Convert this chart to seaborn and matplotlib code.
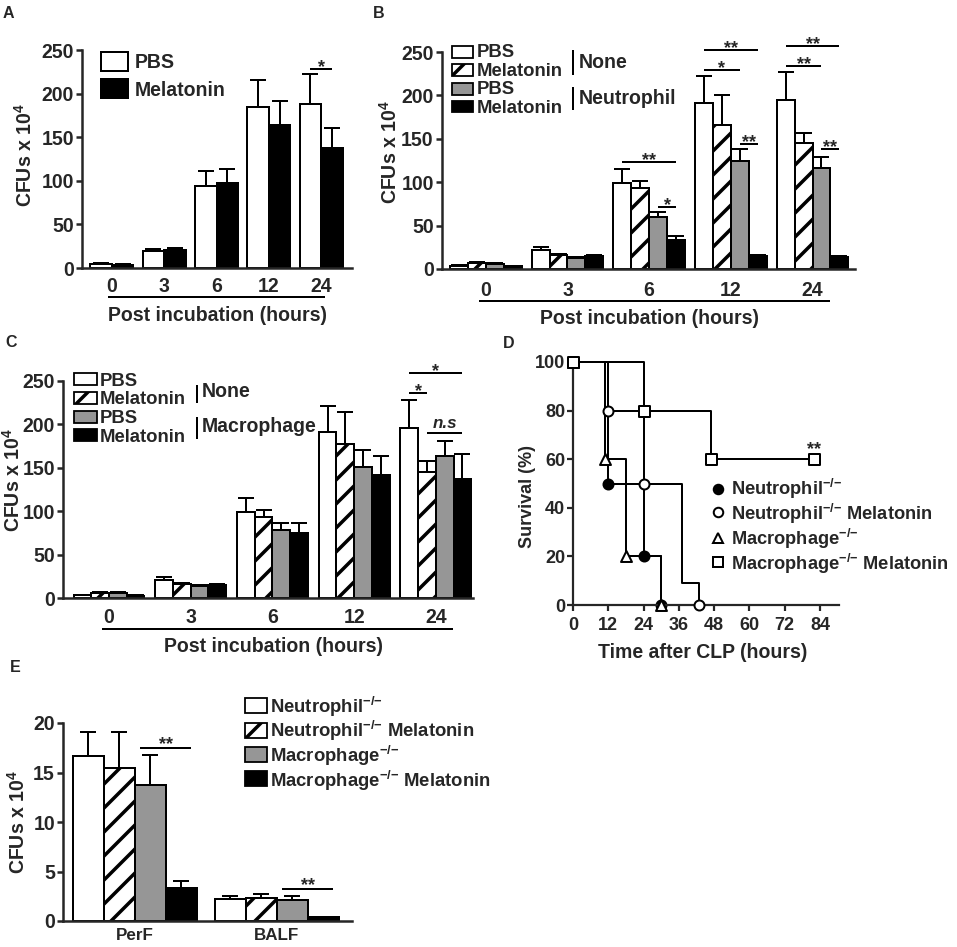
import numpy as np
import pandas as pd
import matplotlib
matplotlib.use("Agg")
import matplotlib.pyplot as plt
import seaborn as sns
from matplotlib.patches import Rectangle
from matplotlib.lines import Line2D

# ---------------- data ----------------
hours = ["0", "3", "6", "12", "24"]

# Panel A
a_names = ["PBS", "Melatonin"]
a_pbs = [4.2, 19.0, 94.0, 185.0, 188.5]
a_pbs_err = [1.0, 3.0, 17.0, 31.0, 33.5]
a_mel = [4.0, 21.0, 97.5, 164.0, 137.6]
a_mel_err = [1.0, 2.0, 15.5, 27.5, 22.5]

# Panel B
b_names = ["PBS None", "Melatonin None", "PBS Neutrophil", "Melatonin Neutrophil"]
b_pbs_none = [3.8, 21.5, 99.5, 191.0, 195.0]
b_pbs_none_err = [1.0, 3.5, 15.5, 31.0, 32.0]
b_mel_none = [7.0, 16.0, 93.0, 166.0, 145.0]
b_mel_none_err = [1.0, 1.2, 8.0, 35.0, 12.0]
b_pbs_neut = [6.0, 12.7, 60.0, 125.0, 116.0]
b_pbs_neut_err = [1.0, 1.3, 6.0, 13.0, 13.0]
b_mel_neut = [3.0, 14.6, 33.0, 14.6, 13.4]
b_mel_neut_err = [0.7, 1.4, 4.6, 1.9, 1.6]

# Panel C
c_names = ["PBS None", "Melatonin None", "PBS Macrophage", "Melatonin Macrophage"]
c_pbs_none = [3.0, 21.0, 99.0, 191.5, 196.0]
c_pbs_none_err = [1.0, 3.0, 16.0, 30.0, 32.0]
c_mel_none = [6.0, 15.8, 93.5, 177.0, 145.0]
c_mel_none_err = [1.0, 1.2, 7.5, 37.6, 13.0]
c_pbs_mac = [5.4, 13.5, 78.0, 151.0, 163.5]
c_pbs_mac_err = [1.0, 1.1, 8.5, 20.0, 17.5]
c_mel_mac = [2.7, 14.6, 75.0, 141.5, 137.0]
c_mel_mac_err = [0.6, 1.9, 11.5, 22.0, 28.4]

# Panel D (Kaplan-Meier survival, %)
d_neut_t = [0, 12, 24, 30]
d_neut_s = [100, 50, 20, 0]
d_neutmel_t = [0, 12, 24, 37, 43]
d_neutmel_s = [100, 80, 50, 9, 0]
d_mac_t = [0, 11, 18, 30]
d_mac_s = [100, 60, 20, 0]
d_macmel_t = [0, 24, 47, 82]
d_macmel_s = [100, 80, 60, 60]

# Panel E
e_sites = ["PerF", "BALF"]
e_names = ["Neutrophil-/-", "Neutrophil-/- Melatonin", "Macrophage-/-", "Macrophage-/- Melatonin"]
e_neut = [16.7, 2.2]
e_neut_err = [2.4, 0.33]
e_neutmel = [15.45, 2.36]
e_neutmel_err = [3.6, 0.37]
e_mac = [13.7, 2.12]
e_mac_err = [3.1, 0.41]
e_macmel = [3.37, 0.37]
e_macmel_err = [0.68, 0.07]

# ---------------- style ----------------
W, H, DPI = 957, 947, 72
sns.set_style("ticks")
plt.rcParams["font.family"] = ["Liberation Sans", "DejaVu Sans"]
plt.rcParams["font.weight"] = "bold"
plt.rcParams["axes.labelweight"] = "bold"
plt.rcParams["hatch.color"] = "black"
plt.rcParams["hatch.linewidth"] = 3.5
plt.rcParams["mathtext.fontset"] = "custom"
plt.rcParams["mathtext.rm"] = "Liberation Sans:bold"
plt.rcParams["mathtext.bf"] = "Liberation Sans:bold"
plt.rcParams["mathtext.it"] = "Liberation Sans:bold:italic"
plt.rcParams["mathtext.default"] = "regular"

GRAY = "#969696"
KO = r"$^{{-}/{-}}$"
fig = plt.figure(figsize=(W / DPI, H / DPI), dpi=DPI)
fig.patch.set_facecolor("white")


def fx(x):
    return x / W


def fy(y):
    return 1 - y / H


def add_ax(left, top, right, bottom):
    return fig.add_axes([fx(left), fy(bottom), (right - left) / W, (bottom - top) / H])


def ftext(x, y, s, **kw):
    kw.setdefault("fontweight", "bold")
    fig.text(fx(x), fy(y), s, **kw)


def fline(x0, x1, y0, y1, lw=2):
    fig.add_artist(Line2D([fx(x0), fx(x1)], [fy(y0), fy(y1)], transform=fig.transFigure,
                          color="black", lw=lw, solid_capstyle="butt"))


def frect(x, y, w, h, fc, hatch=None, lw=1.8):
    fig.add_artist(Rectangle((fx(x), fy(y + h)), w / W, h / H, transform=fig.transFigure,
                             facecolor=fc, edgecolor="black", lw=lw, hatch=hatch))


def style_axes(ax, yfs=19.5, xpad=10):
    for s in ["left", "bottom"]:
        ax.spines[s].set_linewidth(2.5)
    sns.despine(ax=ax)
    ax.tick_params(axis="y", direction="out", length=6, width=2.5, pad=2, labelsize=yfs)
    ax.tick_params(axis="x", length=0, pad=xpad, labelsize=19.5)
    for lab in ax.get_xticklabels() + ax.get_yticklabels():
        lab.set_fontweight("bold")
    ax.set_xlabel("")
    ax.set_ylabel("")


def bar_panel(ax, cats, names, means, errs, colors, hatches, width):
    df = pd.DataFrame({
        "cat": np.tile(cats, len(names)),
        "grp": np.repeat(names, len(cats)),
        "val": np.concatenate([np.asarray(m, float) for m in means]),
    })
    sns.barplot(data=df, x="cat", y="val", hue="grp", order=cats, hue_order=names,
                palette=dict(zip(names, colors)), width=width, errorbar=None,
                edgecolor="black", linewidth=2, saturation=1, legend=False, ax=ax)
    centers = []
    for cont, err, h in zip(ax.containers, errs, hatches):
        cs = []
        for bar, e in zip(cont, err):
            if h:
                bar.set_hatch(h)
            xc = bar.get_x() + bar.get_width() / 2
            cs.append(xc)
            ax.errorbar(xc, bar.get_height(), yerr=[[0], [e]], fmt="none", ecolor="black",
                        elinewidth=2, capsize=8, capthick=2, zorder=1)
        centers.append(cs)
    return centers


def sig(ax, xa, xb, y, label, ext=0.0, dy=-3, fs=18, style="normal"):
    ax.plot([xa - ext, xb + ext], [y, y], color="black", lw=2, clip_on=False,
            solid_capstyle="butt")
    ax.annotate(label, xy=((xa + xb) / 2, y), xytext=(0, dy), textcoords="offset points",
                ha="center", va="baseline", fontsize=fs, fontweight="bold", fontstyle=style,
                annotation_clip=False)


four_colors = ["white", "white", GRAY, "black"]
four_hatch = [None, "/", None, None]

# ---------------- Panel A ----------------
axA = add_ax(82, 50, 352, 268)
cA = bar_panel(axA, hours, a_names, [a_pbs, a_mel], [a_pbs_err, a_mel_err],
               ["white", "black"], [None, None], 0.823)
axA.set_ylim(0, 250)
axA.set_xlim(-0.574, 4.593)
axA.set_yticks([0, 50, 100, 150, 200, 250])
style_axes(axA, xpad=9)
sig(axA, cA[0][4], cA[1][4], 228, "*")
frect(101, 52, 27, 19, "white", lw=2)
frect(101, 79, 27, 19, "black", lw=2)
ftext(135, 68.5, "PBS", fontsize=19.5, va="baseline")
ftext(135, 96.5, "Melatonin", fontsize=19.5, va="baseline")
fline(108, 325, 297, 297)
ftext(218, 321, "Post incubation (hours)", fontsize=19.5, ha="center", va="baseline")
ftext(25, 155, "CFUs x 10$^{4}$", fontsize=19.5, rotation=90, ha="center", va="center")
ftext(3, 18, "A", fontsize=16, va="baseline")

# ---------------- Panel B ----------------
axB = add_ax(441.7, 52, 855, 269)
cB = bar_panel(axB, hours, b_names,
               [b_pbs_none, b_mel_none, b_pbs_neut, b_mel_neut],
               [b_pbs_none_err, b_mel_none_err, b_pbs_neut_err, b_mel_neut_err],
               four_colors, four_hatch, 0.877)
axB.set_ylim(0, 250)
axB.set_xlim(-0.54, 4.52)
axB.set_yticks([0, 50, 100, 150, 200, 250])
style_axes(axB, xpad=12)
sig(axB, cB[0][2], cB[3][2], 123.3, "**")
sig(axB, cB[2][2], cB[3][2], 71.4, "*")
sig(axB, cB[0][3], cB[3][3], 252.3, "**")
sig(axB, cB[0][3], cB[2][3], 229.3, "*")
sig(axB, cB[2][3], cB[3][3], 144.0, "**")
sig(axB, cB[0][4], cB[3][4], 257.0, "**")
sig(axB, cB[0][4], cB[2][4], 233.9, "**")
sig(axB, cB[2][4], cB[3][4], 138.2, "**")
for top, fc, h in zip([46, 64, 83, 101], four_colors, four_hatch):
    frect(452, top, 21, 11.5, fc, hatch=h)
for base, lab in zip([57, 76, 94.5, 113], ["PBS", "Melatonin", "PBS", "Melatonin"]):
    ftext(477, base, lab, fontsize=18.5, va="baseline")
fline(573, 573, 50, 75)
fline(573, 573, 87, 110)
ftext(579, 68, "None", fontsize=19.5, va="baseline")
ftext(579, 104, "Neutrophil", fontsize=19.5, va="baseline")
fline(479, 830, 301, 301)
ftext(649, 324, "Post incubation (hours)", fontsize=19.5, ha="center", va="baseline")
ftext(390, 152, "CFUs x 10$^{4}$", fontsize=19.5, rotation=90, ha="center", va="center")
ftext(373, 18, "B", fontsize=16, va="baseline")

# ---------------- Panel C ----------------
axC = add_ax(63, 381, 473, 598)
cC = bar_panel(axC, hours, c_names,
               [c_pbs_none, c_mel_none, c_pbs_mac, c_mel_mac],
               [c_pbs_none_err, c_mel_none_err, c_pbs_mac_err, c_mel_mac_err],
               four_colors, four_hatch, 0.868)
axC.set_ylim(0, 250)
axC.set_xlim(-0.563, 4.455)
axC.set_yticks([0, 50, 100, 150, 200, 250])
style_axes(axC, xpad=10)
sig(axC, cC[0][4], cC[3][4], 259.2, "*")
sig(axC, cC[0][4], cC[1][4], 236.2, "*")
sig(axC, cC[1][4], cC[3][4], 190.0, "n.s", dy=5, fs=17, style="italic")
for top, fc, h in zip([373, 392, 411, 429], four_colors, four_hatch):
    frect(74, top, 23, 12, fc, hatch=h)
for base, lab in zip([385.5, 404, 423, 441.5], ["PBS", "Melatonin", "PBS", "Melatonin"]):
    ftext(100, base, lab, fontsize=18.5, va="baseline")
fline(197, 197, 385, 403)
fline(197, 197, 417, 439)
ftext(202, 397, "None", fontsize=19.5, va="baseline")
ftext(202, 432, "Macrophage", fontsize=19.5, va="baseline")
fline(102, 453, 629, 629)
ftext(273, 652, "Post incubation (hours)", fontsize=19.5, ha="center", va="baseline")
ftext(13, 480, "CFUs x 10$^{4}$", fontsize=19.5, rotation=90, ha="center", va="center")
ftext(5, 347, "C", fontsize=16, va="baseline")

# ---------------- Panel D ----------------
axD = add_ax(573, 362, 839, 605)
series_D = [
    (d_neut_t, d_neut_s, "o", "black", 100, 2),
    (d_neutmel_t, d_neutmel_s, "o", "white", 100, 3),
    (d_mac_t, d_mac_s, "^", "white", 120, 4),
    (d_macmel_t, d_macmel_s, "s", "white", 121, 5),
]
for t, s, m, fc, ms, z in series_D:
    sns.lineplot(x=t, y=s, drawstyle="steps-post", color="black", lw=2, clip_on=False,
                 estimator=None, ax=axD, zorder=1)
marked = {1: [0, 1, 2, 4]}
for i, (t, s, m, fc, ms, z) in enumerate(series_D):
    idx = marked.get(i, list(range(len(t))))
    sns.scatterplot(x=[t[k] for k in idx], y=[s[k] for k in idx], marker=m, s=ms,
                    color=fc, edgecolor="black", linewidth=2, clip_on=False, zorder=z, ax=axD)
axD.set_xlim(0, 90.5)
axD.set_ylim(0, 100)
axD.set_xticks(np.arange(0, 85, 12))
axD.set_yticks(np.arange(0, 101, 20))
for s in ["left", "bottom"]:
    axD.spines[s].set_linewidth(2.2)
sns.despine(ax=axD)
axD.tick_params(axis="both", direction="out", length=6, width=2.2, labelsize=18)
axD.tick_params(axis="x", pad=6)
axD.tick_params(axis="y", pad=2)
for lab in axD.get_xticklabels() + axD.get_yticklabels():
    lab.set_fontweight("bold")
axD.set_xlabel("")
axD.set_ylabel("")
axD.annotate("**", xy=(82, 60), xytext=(0, 5), textcoords="offset points", ha="center",
             va="baseline", fontsize=18, fontweight="bold", annotation_clip=False)
leg_labels = ["Neutrophil" + KO, "Neutrophil" + KO + " Melatonin",
              "Macrophage" + KO, "Macrophage" + KO + " Melatonin"]
leg_D = [("o", "black", 489, 495), ("o", "white", 512, 520),
         ("^", "white", 538, 545), ("s", "white", 562, 570)]
for (m, fc, yc, yb), lab in zip(leg_D, leg_labels):
    fig.add_artist(Line2D([fx(718)], [fy(yc)], transform=fig.transFigure, marker=m,
                          markersize=9.5, markerfacecolor=fc, markeredgecolor="black",
                          markeredgewidth=2, lw=0))
    ftext(731, yb, lab, fontsize=18.2, va="baseline")
ftext(703, 658, "Time after CLP (hours)", fontsize=19.5, ha="center", va="baseline")
ftext(527, 496, "Survival (%)", fontsize=18, rotation=90, ha="center", va="center")
ftext(503, 348, "D", fontsize=16, va="baseline")

# ---------------- Panel E ----------------
axE = add_ax(63, 723, 352, 921)
cE = bar_panel(axE, e_sites, e_names, [e_neut, e_neutmel, e_mac, e_macmel],
               [e_neut_err, e_neutmel_err, e_mac_err, e_macmel_err],
               four_colors, four_hatch, 0.873)
axE.set_ylim(0, 20)
axE.set_xlim(-0.505, 1.53)
axE.set_yticks([0, 5, 10, 15, 20])
style_axes(axE, xpad=7)
for lab in axE.get_xticklabels():
    lab.set_fontsize(17)
sig(axE, cE[2][0], cE[3][0], 17.5, "**", ext=0.07, dy=-1)
sig(axE, cE[2][1], cE[3][1], 3.23, "**", ext=0.07, dy=-1)
for top, fc, h in zip([698, 723, 747, 771], four_colors, four_hatch):
    frect(245, top, 22, 15, fc, hatch=h)
for base, lab in zip([713, 737, 762, 787], leg_labels):
    ftext(270, base, lab, fontsize=18.5, va="baseline")
ftext(18, 822, "CFUs x 10$^{4}$", fontsize=19.5, rotation=90, ha="center", va="center")
ftext(10, 672, "E", fontsize=16, va="baseline")

fig.savefig("out.png", dpi=DPI, facecolor="white")
